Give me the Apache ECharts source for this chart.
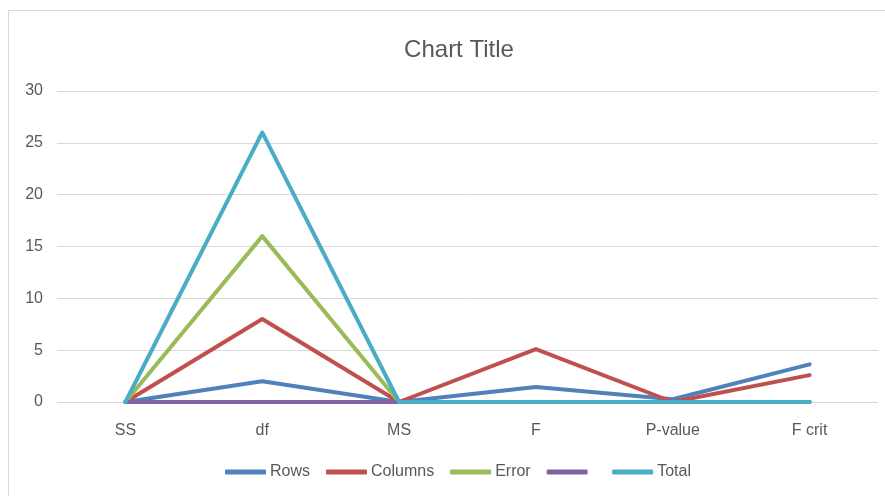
<!DOCTYPE html>
<html>
<head>
<meta charset="utf-8">
<script src="https://cdn.jsdelivr.net/npm/echarts@6/dist/echarts.min.js"></script>
<style>
html,body{margin:0;padding:0;background:#fff;}
#frame{position:absolute;left:8px;top:10px;width:900px;height:500px;border:1px solid #d9d9d9;box-sizing:border-box;}
#chart{position:absolute;left:0;top:0;width:885px;height:496px;}
</style>
</head>
<body>
<div id="frame"></div>
<div id="chart"></div>
<script>
const categories = ['SS', 'df', 'MS', 'F', 'P-value', 'F crit'];
const seriesNames = ['Rows', 'Columns', 'Error', ' ', 'Total'];
const rows    = [0, 2, 0, 1.45, 0.26, 3.63];
const columns = [0, 8, 0, 5.1, 0, 2.59];
const errorV  = [0, 16, 0, 0, 0, 0];
const blank   = [0, 0, 0, 0, 0, 0];
const total   = [0, 26, 0, 0, 0, 0];
const yTicks = {min: 0, max: 30, interval: 5};
const colors = ['#4F81BD', '#C0504D', '#9BBB59', '#8064A2', '#4BACC6'];
const values = [rows, columns, errorV, blank, total];

const font = '"Liberation Sans", sans-serif';
const chart = echarts.init(document.getElementById('chart'), null, {renderer: 'canvas'});
chart.setOption({
  animation: false,
  color: colors,
  title: {
    text: 'Chart Title',
    left: 454, top: 33, textAlign: 'center',
    textStyle: {fontFamily: font, fontSize: 24, fontWeight: 'normal', color: '#595959'}
  },
  grid: {left: 57, right: 7, top: 91, bottom: 94},
  legend: {
    bottom: 11, left: 220,
    icon: 'roundRect', itemWidth: 41, itemHeight: 5, itemGap: 16,
    textStyle: {fontFamily: font, fontSize: 16, color: '#595959', padding: [0, 0, 0, -1]},
    data: seriesNames
  },
  xAxis: {
    type: 'category', data: categories, boundaryGap: true,
    axisLine: {show: false}, axisTick: {show: false},
    axisLabel: {fontFamily: font, fontSize: 16, color: '#595959', margin: 21}
  },
  yAxis: {
    type: 'value', min: yTicks.min, max: yTicks.max, interval: yTicks.interval,
    axisLine: {show: false}, axisTick: {show: false},
    axisLabel: {fontFamily: font, fontSize: 16, color: '#595959', margin: 14},
    splitLine: {lineStyle: {color: '#d9d9d9', width: 1}}
  },
  series: seriesNames.map((n, i) => ({
    name: n, type: 'line', data: values[i], showSymbol: false, symbol: 'none',
    lineStyle: {width: 4, color: colors[i], cap: 'round', join: 'round'}
  }))
});
</script>
</body>
</html>
